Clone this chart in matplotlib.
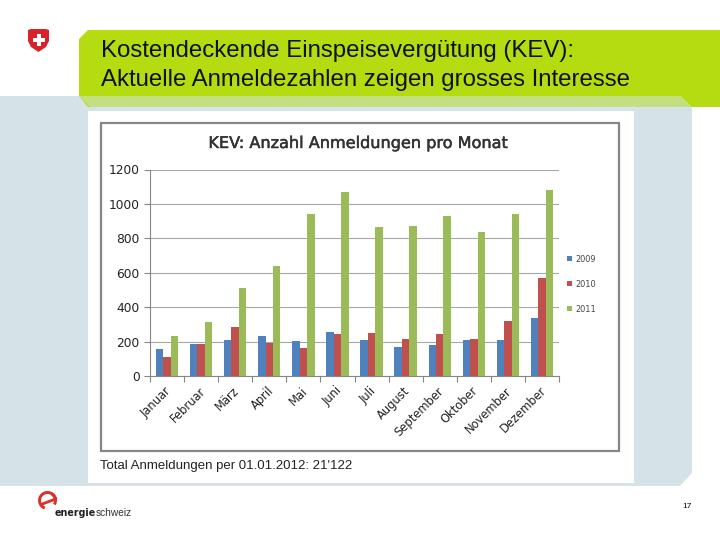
import numpy as np
import matplotlib
matplotlib.use('Agg')
import matplotlib.pyplot as plt
import matplotlib.patheffects as pe
from matplotlib.patches import Polygon, Rectangle, Wedge

months = ['Januar', 'Februar', 'März', 'April', 'Mai', 'Juni', 'Juli', 'August',
          'September', 'Oktober', 'November', 'Dezember']
y2009 = [157, 186, 207, 232, 203, 255, 209, 168, 180, 207, 209, 335]
y2010 = [110, 186, 284, 193, 165, 242, 250, 215, 244, 215, 319, 569]
y2011 = [232, 313, 511, 639, 940, 1068, 867, 871, 929, 836, 944, 1078]
years = ['2009', '2010', '2011']
yticks = [0, 200, 400, 600, 800, 1000, 1200]

W, H = 720, 540
fig = plt.figure(figsize=(7.2, 5.4), dpi=100, facecolor='white')

# slide background in pixel coordinates
bg = fig.add_axes([0, 0, 1, 1])
bg.set_xlim(0, W)
bg.set_ylim(H, 0)
bg.axis('off')

# light blue body with the cut corner bottom right
bg.add_patch(Polygon([(0, 96), (692, 96), (692, 473), (680, 486), (0, 486)], fc='#d5e2e7', ec='none'))
# green header
bg.add_patch(Polygon([(88, 30), (720, 30), (720, 107), (88, 107), (79, 96), (79, 39)], fc='#b5dc10', ec='none'))
bg.add_patch(Polygon([(79, 96), (681, 96), (692, 107), (90, 107)], fc='#c4df80', ec='none'))
# white panel
bg.add_patch(Rectangle((88, 111), 546, 372, fc='white', ec='none'))
# chart frame
bg.add_patch(Rectangle((100.5, 122.5), 518, 328, fc='white', ec='#868686', lw=1.6))

bg.text(101, 51, 'Kostendeckende Einspeisevergütung (KEV):', fontsize=17.3, family='Liberation Sans',
        va='center', color='#111111')
bg.text(101, 80, 'Aktuelle Anmeldezahlen zeigen grosses Interesse', fontsize=17.3, family='Liberation Sans',
        va='center', color='#111111')
bg.text(100, 465.5, "Total Anmeldungen per 01.01.2012: 21'122", fontsize=9.55, family='Liberation Sans',
        va='center', color='#222222')
bg.text(692, 507, '17', fontsize=6, family='Liberation Sans', ha='right', va='center', color='black')

# swiss shield
bg.add_patch(Polygon([(28, 30), (31, 29), (46, 29), (49, 30), (49, 41), (46, 47), (38.5, 52), (31, 47), (28, 41)],
                     fc='#d8232a', ec='none'))
bg.add_patch(Rectangle((36.5, 34), 4, 11.5, fc='white', ec='none'))
bg.add_patch(Rectangle((32.5, 37.7), 12, 4, fc='white', ec='none'))

# energieschweiz logo
bg.add_patch(Wedge((47.5, 500.5), 9.5, 110, 350, width=3, fc='#d9332b', ec='none'))
bg.add_patch(Wedge((47.5, 500.5), 9.5, 300, 30, width=3, fc='#d9332b', ec='none'))
bg.add_patch(Polygon([(41, 503), (57, 497), (57, 500), (41, 506)], fc='#d9332b', ec='none'))
bg.text(55, 512.5, 'energie', fontsize=6.9, fontweight='bold', family='DejaVu Sans', va='center', color='#222222')
bg.text(96, 512.5, 'schweiz', fontsize=7.3, family='Liberation Sans', va='center', color='#333333')

# the chart itself
left, right, top, bottom = 150, 559, 169.5, 376
ax = fig.add_axes([left / W, 1 - bottom / H, (right - left) / W, (bottom - top) / H])
x = np.arange(len(months))
bw = 0.218
colors = ['#4f81bd', '#c0504d', '#9bbb59']
for i, (vals, c) in enumerate(zip([y2009, y2010, y2011], colors)):
    ax.bar(x + (i - 1) * bw, vals, bw, color=c, label=years[i], zorder=3)

ax.set_xlim(-0.5, 11.5)
ax.set_ylim(0, 1200)
ax.set_yticks(yticks)
ax.set_xticks(np.arange(13) - 0.5, minor=False, labels=[''] * 13)
ax.tick_params(axis='x', length=4, width=0.8, color='#868686', pad=2)
ax.tick_params(axis='y', length=4, width=0.8, color='#868686', labelsize=8.8, labelcolor='#222222', pad=3.5)
ax.grid(axis='y', color='#a8a8a8', lw=0.8, zorder=1)
for s in ['top', 'right']:
    ax.spines[s].set_visible(False)
for s in ['left', 'bottom']:
    ax.spines[s].set_color('#868686')

# month names sit rotated under the group centres
for xi, m in zip(x, months):
    ax.annotate(m, (xi - 0.07, 0), xytext=(0, -6), textcoords='offset points', rotation=45,
                ha='right', va='top', rotation_mode='anchor', fontsize=8.3, color='#222222',
                annotation_clip=False)

bg.text(358.5, 143.5, 'KEV: Anzahl Anmeldungen pro Monat', fontsize=11.6, ha='center', va='center',
        color='#333333', path_effects=[pe.withStroke(linewidth=0.35, foreground='#333333')])

leg = ax.legend(loc='center left', bbox_to_anchor=(1.0, 0.445), frameon=False, fontsize=5.9,
                handlelength=0.6, handleheight=0.6, handletextpad=0.35, labelspacing=1.95,
                borderaxespad=0.6, labelcolor='#444444')

fig.savefig('out.png', dpi=100)
